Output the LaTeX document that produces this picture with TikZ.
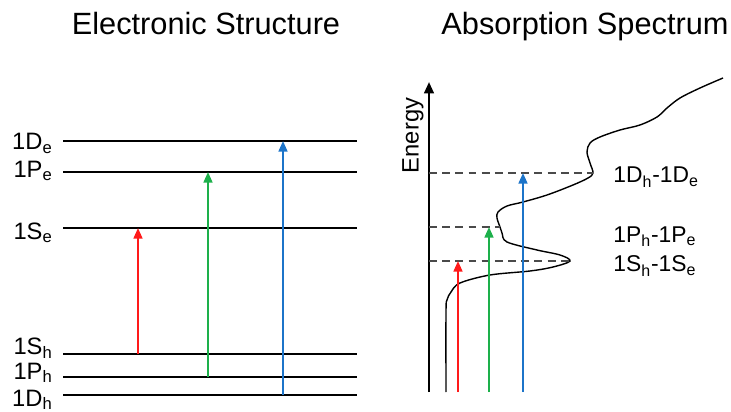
\documentclass[tikz,border=0pt]{standalone}
\usepackage{fontspec}
\setmainfont{Liberation Sans}
\usetikzlibrary{arrows.meta,positioning}
\definecolor{ink}{HTML}{000000}
\definecolor{dashgray}{HTML}{4A4A4A}
\definecolor{red}{HTML}{FF1A1A}
\definecolor{green}{HTML}{1DB04B}
\definecolor{blue}{HTML}{1C74C9}
\tikzset{
  title/.style={font=\fontsize{17.5}{20}\selectfont, text=ink, anchor=base, inner sep=0pt},
  lvl/.style={font=\fontsize{13.5}{15}\selectfont, text=ink, inner sep=0pt},
  pair/.style={font=\fontsize{13}{15}\selectfont, text=ink, inner sep=0pt, anchor=base west},
  level/.style={draw=ink, line width=1.7pt},
  axis/.style={draw=ink, line width=1.3pt, -{Triangle[length=6.5pt,width=5.5pt]}},
  guide/.style={draw=dashgray, line width=0.6pt, dash pattern=on 4.5pt off 3pt},
  spectrum/.style={draw=ink, line width=0.8pt},
  redarrow/.style={-{Triangle[length=6pt,width=5pt]}, line width=1.2pt, draw=red, fill=red},
  greenarrow/.style={-{Triangle[length=6pt,width=5pt]}, line width=1.2pt, draw=green, fill=green},
  bluearrow/.style={-{Triangle[length=6pt,width=5pt]}, line width=1.2pt, draw=blue, fill=blue}
}
\newcommand{\sub}[2]{#1\textsubscript{#2}}
\begin{document}
\begin{tikzpicture}[x=0.02cm, y=-0.02cm]
\useasboundingbox (0,0) rectangle (731,412);
\node[title] (t1) at (206,35) {Electronic Structure};
\node[title] (t2) at (585,35) {Absorption Spectrum};
% energy levels (name / line height / label baseline / text)
\foreach \n/\y/\b/\t in {De/141/150/\sub{1D}{e}, Pe/172/177/\sub{1P}{e}, Se/228/239/\sub{1S}{e},
                         Sh/354/355/\sub{1S}{h}, Ph/377/379/\sub{1P}{h}, Dh/395/406/\sub{1D}{h}}{
  \coordinate (\n) at (63,\y);
  \draw[level] (\n) -- ++(294,0);
  \node[lvl, anchor=base east] (l\n) at (53,\b) {\t};
}
\coordinate (xr) at (138,0);
\coordinate (xg) at (208,0);
\coordinate (xb) at (283,0);
\draw[redarrow] (Sh -| xr) -- (Se -| xr);
\draw[greenarrow] (Ph -| xg) -- (Pe -| xg);
\draw[bluearrow] (Dh -| xb) -- (De -| xb);
% spectrum
\coordinate (o) at (429,392);
\coordinate (top) at (429,82);
\draw[axis] (o) -- (top);
\node[lvl, rotate=90] (energy) at (413,135.5) {Energy};
\draw[spectrum] plot[smooth, tension=0.55] coordinates {
  (446,392) (446,312) (447,300) (451,292) (460,283) (490,275) (530,271) (553,267)
  (570,261) (560,255) (537,250) (507,242) (502,233) (500,227) (497,218) (498,212)
  (507,206) (523,202) (547,195) (573,185) (588,178) (593,173) (590,163) (587,152)
  (590,143) (600,137) (620,130) (640,125) (657,117) (667,108) (680,98) (700,88) (723,78)};
\coordinate (pS) at (570,261);
\coordinate (pP) at (500,227);
\coordinate (pD) at (593,173);
\draw[guide] (o |- pS) -- (pS);
\draw[guide] (o |- pP) -- (pP);
\draw[guide] (o |- pD) -- (pD);
\coordinate (ar) at (458,392);
\coordinate (ag) at (489,392);
\coordinate (ab) at (523,392);
\draw[redarrow] (ar) -- (ar |- pS);
\draw[greenarrow] (ag) -- (ag |- pP);
\draw[bluearrow] (ab) -- (ab |- pD);
\node[pair] (kD) at (613,183) {\sub{1D}{h}-\sub{1D}{e}};
\node[pair] (kP) at (613,242) {\sub{1P}{h}-\sub{1P}{e}};
\node[pair] (kS) at (613,272) {\sub{1S}{h}-\sub{1S}{e}};
\end{tikzpicture}
\end{document}
